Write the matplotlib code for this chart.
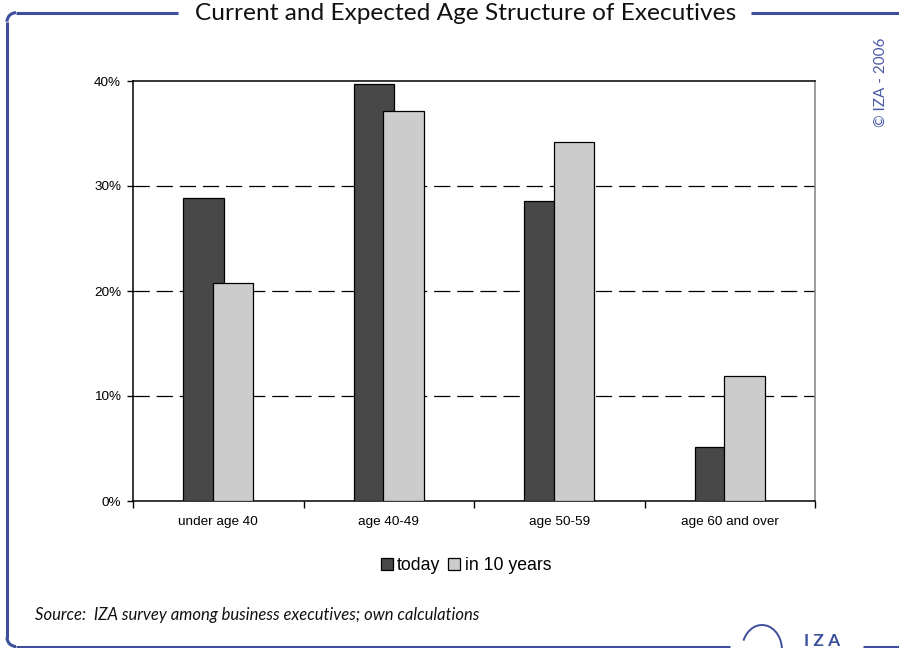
import matplotlib
matplotlib.use("Agg")
import matplotlib.pyplot as plt
import numpy as np
from matplotlib.patches import Arc
from matplotlib.lines import Line2D

categories = ["under age 40", "age 40-49", "age 50-59", "age 60 and over"]
today = [28.9, 39.7, 28.6, 5.1]
in_10_years = [20.8, 37.1, 34.2, 11.9]
series_names = ["today", "in 10 years"]
y_ticks = [0, 10, 20, 30, 40]

title = "Current and Expected Age Structure of Executives"
source = "Source:  IZA survey among business executives; own calculations"
copyright_note = "\u00a9 IZA - 2006"

W, H = 899, 648
fig = plt.figure(figsize=(W / 100, H / 100), dpi=100)
blue = "#3d4f9c"


def frame_line(x0, y0, x1, y1):
    """Line in pixel coordinates measured from the top-left corner."""
    fig.add_artist(Line2D([x0 / W, x1 / W], [1 - y0 / H, 1 - y1 / H],
                          transform=fig.transFigure, color=blue, lw=2.2,
                          solid_capstyle="butt"))


# rounded frame around the chart
r = 9
top_y, bot_y, left_x = 12.7, 646.5, 7
frame_line(left_x + r, top_y, 178, top_y)
frame_line(751, top_y, 899, top_y)
frame_line(left_x, top_y + r, left_x, bot_y - r)
frame_line(left_x + r, bot_y, 730, bot_y)
frame_line(863, bot_y, 899, bot_y)
for cx, cy, t1, t2 in [(left_x + r, top_y + r, 90, 180), (left_x + r, bot_y - r, 180, 270)]:
    fig.add_artist(Arc((cx / W, 1 - cy / H), 2 * r / W, 2 * r / H, theta1=t1, theta2=t2,
                       transform=fig.transFigure, color=blue, lw=2.2))

fig.text(466 / W, 1 - 20.5 / H, title, ha="center", va="baseline",
         fontsize=17.6, family="Lato", color="#111111")
fig.text(35 / W, 1 - 615 / H, source, ha="left", va="center",
         fontsize=12, family="Lato", style="italic", color="#111111")
fig.text(881 / W, 1 - 82 / H, copyright_note, ha="center", va="center", rotation=90,
         fontsize=11, family="Lato", color="#4a5aa8")

# IZA logo in the bottom frame line
fig.add_artist(Arc((762 / W, 1 - 650 / H), 40 / W, 50 / H, theta1=-25, theta2=145,
                   transform=fig.transFigure, color=blue, lw=1.4))
fig.text(822 / W, 1 - 646.5 / H, "I Z A", ha="center", va="baseline",
         fontsize=12.5, family="Lato", weight="bold", color=blue)

ax = fig.add_axes([133 / W, 1 - 501 / H, 682 / W, 420 / H])
x = np.arange(len(categories))
bw = 0.24
off = 0.0865
ax.bar(x - off, today, bw, color="#484848", edgecolor="black", lw=0.9, zorder=3,
       label=series_names[0])
ax.bar(x + off, in_10_years, bw, color="#cccccc", edgecolor="black", lw=0.9, zorder=4,
       label=series_names[1])

ax.set_xlim(-0.5, len(categories) - 0.5)
ax.set_ylim(0, 40)
ax.set_yticks(y_ticks)
ax.set_yticklabels([f"{v}%" for v in y_ticks])
ax.set_xticks(np.arange(len(categories) + 1) - 0.5)
ax.set_xticklabels([])
ax.set_xticks(x, minor=True)
ax.set_xticklabels(categories, minor=True)
ax.tick_params(axis="x", which="minor", length=0, pad=11)
ax.tick_params(axis="x", which="major", length=5, width=1, direction="out")
ax.tick_params(axis="y", length=4, width=1, direction="out", pad=4.5)
for lab in ax.get_xticklabels(minor=True) + ax.get_yticklabels():
    lab.set_family("Liberation Sans")
    lab.set_fontsize(9.7)
for v in y_ticks[1:-1]:
    ax.axhline(v, color="black", lw=0.9, dashes=(13, 5.5), zorder=1)
for s in ["left", "bottom", "top"]:
    ax.spines[s].set_color("black")
    ax.spines[s].set_linewidth(1.1)
ax.spines["right"].set_color("#808080")
ax.spines["right"].set_linewidth(1.1)

fig.legend(loc="center", bbox_to_anchor=(466 / W, 1 - 566 / H), ncol=2, frameon=False,
           prop={"family": "Liberation Sans", "size": 12.7}, handlelength=0.68,
           handleheight=0.68, handletextpad=0.25, columnspacing=0.45)

fig.savefig("out.png", dpi=100)
